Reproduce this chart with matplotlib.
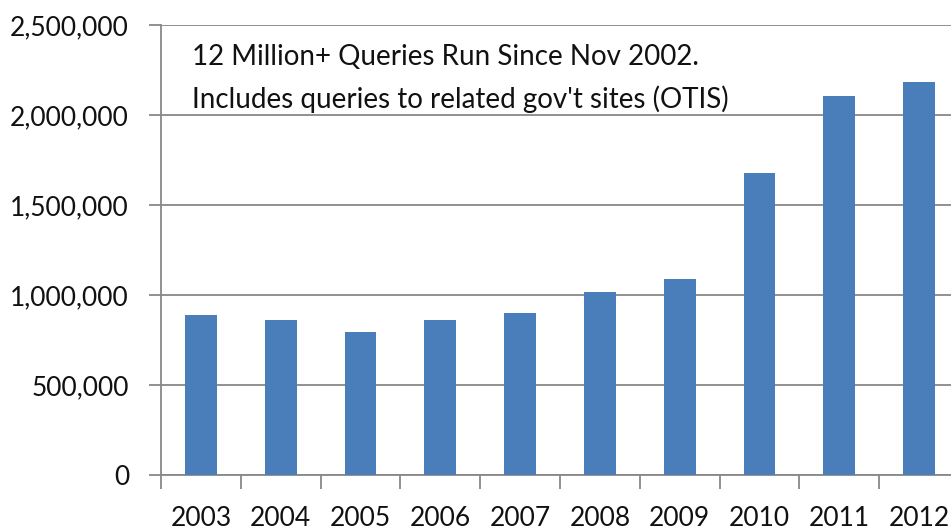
import matplotlib
matplotlib.use("Agg")
import matplotlib.pyplot as plt
from matplotlib.ticker import FuncFormatter, MultipleLocator, FixedLocator
import numpy as np

years = ["2003", "2004", "2005", "2006", "2007", "2008", "2009", "2010", "2011", "2012"]
queries = [890000, 862000, 797000, 862000, 901000, 1016000, 1091000, 1680000, 2106000, 2182000]
note_lines = ["12 Million+ Queries Run Since Nov 2002.",
              "Includes queries to related gov't sites (OTIS)"]

plt.rcParams['font.family'] = ['Lato', 'DejaVu Sans']

W, H = 951, 529
fig = plt.figure(figsize=(W / 100, H / 100), dpi=100)
ax = fig.add_axes([161 / W, (H - 475.3) / H, 798 / W, 450.3 / H])

x = np.arange(len(years))
ax.bar(x, queries, width=0.40, color="#4A7EBB", zorder=3)

ax.set_xlim(-0.5, len(years) - 0.5)
ax.set_ylim(0, 2500000)
ax.yaxis.set_major_locator(MultipleLocator(500000))
ax.yaxis.set_major_formatter(FuncFormatter(lambda v, p: f"{int(v):,}"))
ax.grid(axis="y", color="#888888", linewidth=1.3, zorder=0)
for s in ["top", "right"]:
    ax.spines[s].set_visible(False)
for s in ["left", "bottom"]:
    ax.spines[s].set_color("#888888")
    ax.spines[s].set_linewidth(1.3)

ax.set_xticks(x)
ax.set_xticklabels(years)
ax.xaxis.set_minor_locator(FixedLocator(np.arange(-0.5, len(years), 1.0)))
ax.tick_params(axis="x", which="major", length=0, pad=22, labelsize=19, labelcolor="#111111")
ax.tick_params(axis="x", which="minor", length=10, width=1.3, color="#888888", direction="out")
ax.tick_params(axis="y", length=9, width=1.3, color="#888888", direction="out", pad=14,
               labelsize=19, labelcolor="#111111")

ax.text(192 / W, (H - 57) / H, note_lines[0], transform=fig.transFigure,
        fontsize=20, color="#111111", va="center", ha="left")
ax.text(192 / W, (H - 99) / H, note_lines[1], transform=fig.transFigure,
        fontsize=20, color="#111111", va="center", ha="left")

fig.savefig("out.png", dpi=100)
